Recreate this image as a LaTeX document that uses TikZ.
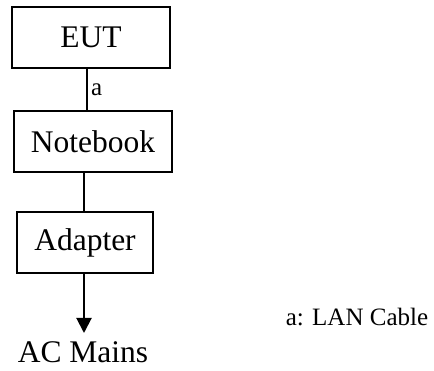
\documentclass[tikz,border=0pt]{standalone}
\usepackage{fontspec}
\setmainfont{Liberation Serif}
\usepackage{tikz}
\usetikzlibrary{arrows.meta}
\tikzset{>=latex}

\begin{document}
\begin{tikzpicture}[x=1pt,y=-1pt,
    unit/.style={draw,line width=2pt,minimum height=61pt,inner sep=0pt,font=\fontsize{31.5}{36}\selectfont},
    link/.style={line width=2pt}]
    \useasboundingbox (0,0) rectangle (434,371);
    \node[unit,minimum width=158pt] (eut) at (91,37.5) {EUT};
    \node[unit,minimum width=158pt] (notebook) at (93,141.5) {Notebook};
    \node[unit,minimum width=136pt] (adapter) at (85,242.5) {Adapter};
    \node[font=\fontsize{31.5}{36}\selectfont] (mains) at (83,352) {AC Mains};
    \coordinate (tip) at (84,333);
    \draw[link] ([xshift=-4pt]eut.south) -- ([xshift=-6pt]notebook.north)
      node[midway,right,inner sep=3pt,font=\fontsize{25}{30}\selectfont] (a) {a};
    \draw[link] ([xshift=-9pt]notebook.south) -- ([xshift=-1pt]adapter.north);
    \draw[link,-{Triangle[length=15pt,width=15pt]}] ([xshift=-1pt]adapter.south) -- (tip);
    \node[font=\fontsize{25}{30}\selectfont] (legend) at (357,317) {a: LAN Cable};
  \end{tikzpicture}
\end{document}
